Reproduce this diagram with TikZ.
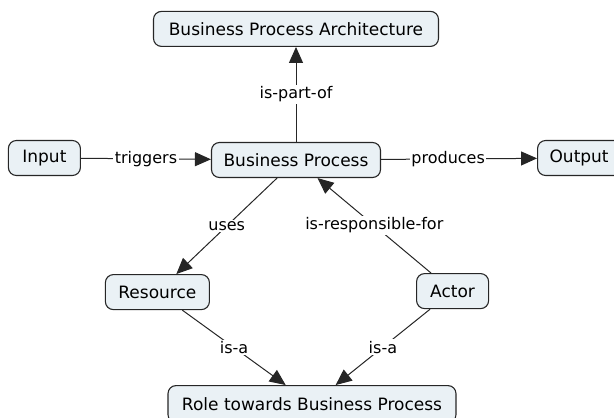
\documentclass[tikz,border=0pt]{standalone}
\usepackage{fontspec}
\setmainfont{DejaVu Sans}
\usetikzlibrary{positioning, arrows.meta}
\definecolor{boxfill}{HTML}{EAF1F5}
\definecolor{edgeline}{HTML}{262626}

\begin{document}
\begin{tikzpicture}[x=1pt, y=1pt, font=\fontsize{17}{20}\selectfont,
  concept/.style={draw=edgeline, line width=1.1pt, fill=boxfill, rounded corners=8pt, minimum height=35pt, inner xsep=4pt},
  link/.style={draw=edgeline, line width=1pt, -{Triangle[length=16pt, width=14pt]}},
  lbl/.style={fill=white, inner sep=1.5pt, font=\fontsize{16}{19}\selectfont}]
            \useasboundingbox (0,0) rectangle (614,418);
            % centre
            \node[concept, minimum width=169pt] (bp) at (296,258) {Business Process};
            % top row
            \node[concept, above=95pt of bp, minimum width=285pt] (bpa) {Business Process Architecture};
            \node[concept, left=130pt of bp, yshift=2pt, minimum width=72pt] (input) {Input};
            \node[concept, right=156pt of bp, yshift=2pt, inner xsep=12pt, text width=80pt] (output) {Output};
            % middle row
            \node[concept, below left=96pt and 1pt of bp, minimum width=104pt] (resource) {Resource};
            \node[concept, below right=95pt and 35pt of bp, minimum width=72pt] (actor) {Actor};
            % bottom row
            \node[concept, below=207pt of bp, xshift=16pt, minimum height=37pt, minimum width=288pt] (role) {Role towards Business Process};
            % links
            \draw[link] (bp) -- (bpa) node[midway, lbl]{is-part-of};
            \draw[link] (input) -- (bp) node[midway, lbl]{triggers};
            \draw[link] (bp) -- (output) node[pos=0.43, lbl]{produces};
            \draw[link] (bp) -- (resource) node[midway, lbl]{uses};
            \draw[link] (actor) -- (bp) node[midway, lbl]{is-responsible-for};
            \draw[link] (resource) -- (role) node[midway, lbl]{is-a};
            \draw[link] (actor) -- (role) node[midway, lbl]{is-a};
        \end{tikzpicture}
\end{document}
